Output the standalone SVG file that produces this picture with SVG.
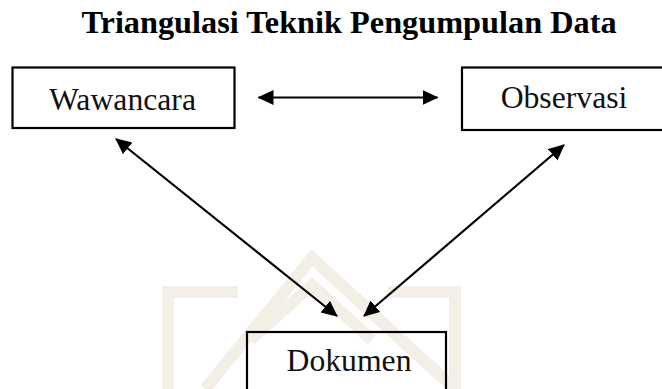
<svg xmlns="http://www.w3.org/2000/svg" width="662" height="389" viewBox="0 0 662 389">
  <defs>
    <marker id="ah" markerUnits="userSpaceOnUse" markerWidth="16" markerHeight="16" viewBox="0 0 16 16" refX="15" refY="7.5" orient="auto-start-reverse">
      <path d="M0,0 L16,7.5 L0,15 z" fill="#000"/>
    </marker>
  </defs>
  <style>
    .box { fill: none; stroke: #000; stroke-width: 2.2; }
    .lbl { font-size: 31.7px; fill: #111; text-anchor: middle; }
    .title { font-size: 32.3px; font-weight: bold; fill: #000; text-anchor: middle; }
    .conn { stroke: #000; stroke-width: 2.2; fill: none; marker-start: url(#ah); marker-end: url(#ah); }
    .wm { fill: none; stroke: #f3efe6; stroke-width: 12; stroke-linejoin: miter; }
  </style>
  <rect width="662" height="389" fill="#fff"/>
  <g id="watermark">
    <polyline class="wm" points="168,389 168,292 238,292"/>
    <polyline class="wm" points="205,389 312,258 455,389"/>
    <polyline class="wm" points="455,389 455,292 388,292"/>
    <polyline class="wm" points="250,340 312,285 372,340"/>
  </g>
  <text class="title" font-family="'Liberation Serif', serif" x="349" y="33">Triangulasi Teknik Pengumpulan Data</text>
  <g id="connectors">
    <line class="conn" x1="258.5" y1="97.5" x2="437.5" y2="97.5"/>
    <line class="conn" x1="116" y1="139" x2="337" y2="316"/>
    <line class="conn" x1="564" y1="145" x2="364" y2="316"/>
  </g>
  <g id="node-wawancara">
    <rect class="box" x="12.5" y="67.5" width="222" height="60.5"/>
    <text class="lbl" font-family="'Liberation Serif', serif" x="122.5" y="110">Wawancara</text>
  </g>
  <g id="node-observasi">
    <rect class="box" x="462" y="67.5" width="220" height="62.5"/>
    <text class="lbl" font-family="'Liberation Serif', serif" x="564" y="108">Observasi</text>
  </g>
  <g id="node-dokumen">
    <rect class="box" x="247" y="332" width="199" height="80"/>
    <text class="lbl" font-family="'Liberation Serif', serif" x="349" y="370.5">Dokumen</text>
  </g>
</svg>
